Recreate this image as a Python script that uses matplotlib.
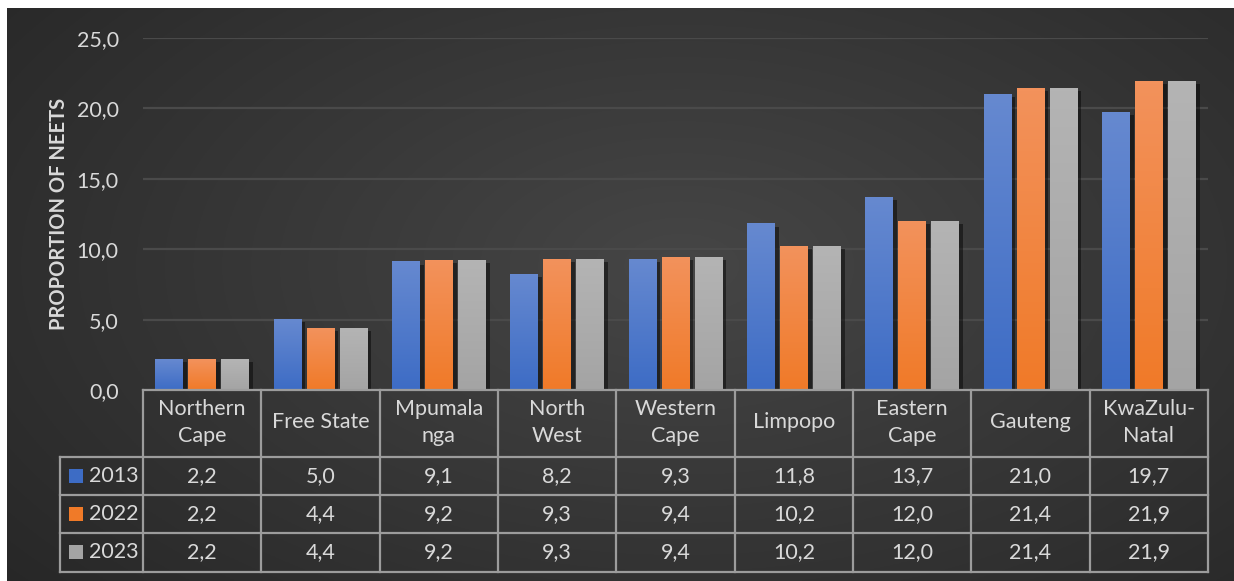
import numpy as np
import matplotlib
matplotlib.use("Agg")
import matplotlib.pyplot as plt
import matplotlib.transforms as mtransforms
from matplotlib.patches import Rectangle
import matplotlib.patheffects as pe
from matplotlib.colors import to_rgb

plt.rcParams['font.family'] = ['Lato', 'DejaVu Sans']

# Proportion of NEETs by province
provinces = ["Northern\nCape", "Free State", "Mpumala\nnga", "North\nWest", "Western\nCape",
             "Limpopo", "Eastern\nCape", "Gauteng", "KwaZulu-\nNatal"]
years = ["2013", "2022", "2023"]
neet_2013 = [2.2, 5.0, 9.1, 8.2, 9.3, 11.8, 13.7, 21.0, 19.7]
neet_2022 = [2.2, 4.4, 9.2, 9.3, 9.4, 10.2, 12.0, 21.4, 21.9]
neet_2023 = [2.2, 4.4, 9.2, 9.3, 9.4, 10.2, 12.0, 21.4, 21.9]
series = [neet_2013, neet_2022, neet_2023]

# (top, bottom) gradient colours for each series
grad_colors = [("#6689d0", "#3d6cc5"), ("#f3925c", "#f07a28"), ("#b4b4b4", "#a4a4a4")]
text_col = "#d9d9d9"
line_col = "#9c9c9c"
fs = 15.5


def fmt(v):
    return f"{v:.1f}".replace(".", ",")


W, H = 1234, 581
fig = plt.figure(figsize=(W / 100, H / 100), dpi=100, facecolor="white")

# dark radial background
bg = fig.add_axes([7 / W, 0, 1 - 7 / W, 1 - 8 / H])
yy, xx = np.mgrid[0:1:300j, 0:1:600j]
r = np.sqrt(((xx - 0.55) / 0.75) ** 2 + ((yy - 0.45) / 0.9) ** 2)
r = np.clip(r, 0, 1)
c0, c1 = np.array(to_rgb("#464646")), np.array(to_rgb("#262626"))
img = c0[None, None, :] * (1 - r[..., None]) + c1[None, None, :] * r[..., None]
bg.imshow(img, aspect="auto", extent=(0, 1, 0, 1))
bg.axis("off")

ax = fig.add_axes([143 / W, 191 / H, 1065 / W, 352 / H])
ax.patch.set_alpha(0)
for s in ax.spines.values():
    s.set_visible(False)

x = np.arange(len(provinces))
offsets = [-0.279, 0.0, 0.279]
width = 0.232
for vals, off, (top, bot) in zip(series, offsets, grad_colors):
    bars = ax.bar(x + off, vals, width, color=bot, zorder=3,
                  path_effects=[pe.SimplePatchShadow(offset=(3, -2), alpha=0.45, shadow_rgbFace="black"),
                                pe.Normal()])
    grad = np.linspace(0, 1, 100)[:, None, None]
    gimg = np.array(to_rgb(top))[None, None, :] * (1 - grad) + np.array(to_rgb(bot))[None, None, :] * grad
    for b in bars:
        ax.imshow(gimg, aspect="auto", zorder=4,
                  extent=(b.get_x(), b.get_x() + b.get_width(), 0, b.get_height()))

ax.set_xlim(-0.5, len(provinces) - 0.5)
ax.set_ylim(0, 25)
ax.set_xticks([])
ax.set_yticks(np.arange(0, 26, 5))
ax.set_yticklabels([fmt(v) for v in np.arange(0, 26, 5)])
ax.tick_params(axis="y", length=0, pad=17.5, labelsize=fs, labelcolor=text_col)
ax.yaxis.grid(True, color="#4a4a4a", lw=1.6)
ax.set_axisbelow(True)
ax.set_ylabel("PROPORTION OF NEETS", fontsize=14.5, fontweight="bold", color=text_col)
ax.yaxis.set_label_coords(-0.0696, 0.5)

# data table under the bars
tr = mtransforms.blended_transform_factory(ax.transData, ax.transAxes)
rows_y = [0, -0.190, -0.298, -0.406, -0.517]
x_left = -0.5
x_right = len(provinces) - 0.5
x_leg = -1.2
lkw = dict(color=line_col, lw=1.6, transform=tr, clip_on=False, zorder=5)
ax.plot([x_left, x_right], [0, 0], **lkw)
for yv in rows_y[1:]:
    ax.plot([x_leg, x_right], [yv, yv], **lkw)
for k in range(len(provinces) + 1):
    ax.plot([x_left + k, x_left + k], [0, rows_y[-1]], **lkw)
ax.plot([x_leg, x_leg], [rows_y[1], rows_y[-1]], **lkw)

for i, name in enumerate(provinces):
    ax.text(i, (rows_y[0] + rows_y[1]) / 2 + 0.003, name, transform=tr, ha="center", va="center",
            fontsize=fs, color=text_col, linespacing=1.45)
for j, (vals, yr, (top, bot)) in enumerate(zip(series, years, grad_colors)):
    yc = (rows_y[j + 1] + rows_y[j + 2]) / 2
    for i, v in enumerate(vals):
        ax.text(i, yc, fmt(v), transform=tr, ha="center", va="center", fontsize=fs, color=text_col)
    ax.add_patch(Rectangle((-1.125, yc - 0.02), 0.118, 0.04, transform=tr, clip_on=False,
                           facecolor=bot, edgecolor="none", zorder=5))
    ax.text(-0.956, yc, yr, transform=tr, ha="left", va="center", fontsize=fs, color=text_col)

fig.savefig("out.png", dpi=100, facecolor="white")
